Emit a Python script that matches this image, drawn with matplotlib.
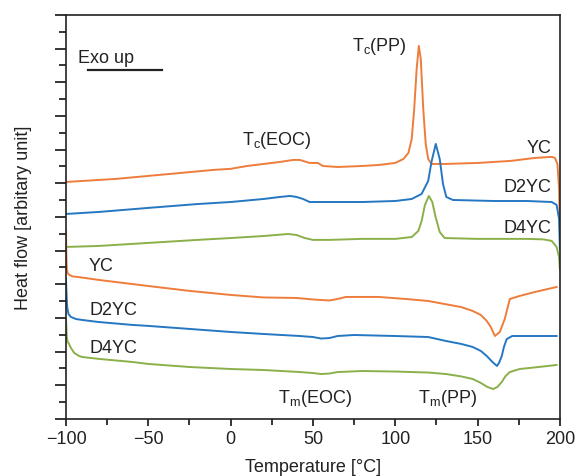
import matplotlib
matplotlib.use("Agg")
import matplotlib.pyplot as plt
from matplotlib.ticker import MultipleLocator

plt.rcParams['font.family'] = ['Liberation Sans', 'DejaVu Sans']
plt.rcParams['mathtext.fontset'] = 'custom'
plt.rcParams['mathtext.rm'] = 'Liberation Sans'
plt.rcParams['mathtext.it'] = 'Liberation Sans'

ORANGE = '#EE7D3B'
BLUE = '#2477C2'
GREEN = '#8AB04A'

# ---- cooling runs (upper curves) ----
yc_cool_T = [-100, -90, -70, -50, -30, -10, 0, 10, 20, 30, 38, 42, 48, 53, 56, 65, 80, 90, 100,
             105, 108, 110, 111.5, 113, 114.3, 115.5, 117, 118.5, 120, 122, 130, 150, 170, 185,
             195, 197, 198.5, 199.5, 200]
yc_cool_H = [14.08, 14.14, 14.26, 14.44, 14.62, 14.80, 14.86, 15.03, 15.15, 15.27, 15.39, 15.39,
             15.21, 15.21, 15.03, 14.97, 15.03, 15.09, 15.21, 15.45, 15.81, 16.64, 18.42, 20.80,
             22.16, 21.39, 18.42, 16.34, 15.45, 15.15, 15.15, 15.21, 15.33, 15.51, 15.57, 15.51,
             15.15, 13.67, 11.29]

d2_cool_T = [-100, -80, -50, -20, 0, 20, 30, 36, 40, 44, 48, 60, 80, 100, 110, 116, 120, 122,
             124.6, 127, 129, 131, 135, 160, 180, 195, 198, 199.5, 200]
d2_cool_H = [12.18, 12.30, 12.54, 12.77, 12.89, 13.07, 13.19, 13.25, 13.19, 13.07, 12.89, 12.89,
             12.89, 12.95, 13.07, 13.37, 14.14, 15.27, 16.34, 15.45, 13.96, 13.19, 13.01, 12.95,
             12.95, 12.89, 12.72, 11.88, 10.10]

d4_cool_T = [-100, -80, -50, -20, 0, 20, 35, 40, 45, 50, 60, 80, 100, 110, 114, 116, 118, 120.4,
             122.5, 124.5, 127, 130, 150, 180, 190, 195, 198, 199.5, 200]
d4_cool_H = [10.22, 10.28, 10.46, 10.64, 10.75, 10.87, 10.99, 10.93, 10.75, 10.64, 10.64, 10.70,
             10.70, 10.81, 11.17, 11.76, 12.71, 13.25, 12.89, 12.00, 11.11, 10.75, 10.70, 10.70,
             10.67, 10.58, 10.22, 9.63, 8.91]

# ---- heating runs (lower curves) ----
yc_heat_T = [-100, -99.8, -99.5, -99, -98, -96, -93, -80, -60, -50, -25, 0, 20, 40, 50, 55, 60,
             65, 70, 90, 110, 120, 130, 140, 147, 152, 155.6, 158, 160.5, 163.5, 166.5, 169.6,
             175.6, 185, 198]
yc_heat_H = [11.17, 9.80, 8.91, 8.67, 8.56, 8.47, 8.44, 8.26, 8.02, 7.90, 7.61, 7.37, 7.22, 7.19,
             7.10, 7.07, 7.04, 7.13, 7.25, 7.25, 7.10, 7.01, 6.83, 6.65, 6.42, 6.18, 5.82, 5.47,
             4.93, 5.17, 5.94, 7.13, 7.31, 7.55, 7.84]

d2_heat_T = [-100, -99.7, -99.3, -98.5, -97, -94, -90, -80, -60, -50, -25, 0, 20, 42, 50, 55, 60,
             65, 75, 100, 120, 131, 140, 147, 152, 155.6, 159, 161.8, 163, 164.7, 166, 167.7, 171,
             180, 198]
d2_heat_H = [8.32, 7.43, 6.65, 6.24, 6.06, 5.94, 5.88, 5.76, 5.59, 5.53, 5.35, 5.17, 5.05, 4.93,
             4.87, 4.78, 4.81, 4.93, 4.99, 4.93, 4.87, 4.63, 4.46, 4.28, 4.04, 3.74, 3.39, 3.15,
             3.33, 3.74, 4.28, 4.75, 4.93, 4.93, 4.93]

d4_heat_T = [-100, -99.5, -99, -98.5, -97, -95, -92, -90, -80, -60, -50, -25, 0, 20, 42, 50, 55,
             60, 65, 80, 100, 120, 131, 140, 147, 152, 156, 159.5, 162, 164.7, 167, 169.6, 175.6,
             190, 198]
d4_heat_H = [5.94, 4.87, 4.58, 4.52, 4.22, 3.92, 3.74, 3.68, 3.57, 3.39, 3.27, 3.09, 2.97, 2.91,
             2.79, 2.73, 2.67, 2.70, 2.79, 2.85, 2.82, 2.76, 2.67, 2.53, 2.38, 2.14, 1.90, 1.78,
             1.90, 2.20, 2.55, 2.79, 2.97, 3.12, 3.21]

x_ticks = [-100, -50, 0, 50, 100, 150, 200]
x_tick_labels = ['\u2212100', '\u221250', '0', '50', '100', '150', '200']

fig = plt.figure(figsize=(5.79, 4.77), dpi=100)
ax = fig.add_axes([0.114, 0.1195, 0.853, 0.847])

lw = 1.4
ax.plot(yc_cool_T, yc_cool_H, color=ORANGE, lw=lw)
ax.plot(d2_cool_T, d2_cool_H, color=BLUE, lw=lw)
ax.plot(d4_cool_T, d4_cool_H, color=GREEN, lw=lw)
ax.plot(yc_heat_T, yc_heat_H, color=ORANGE, lw=lw)
ax.plot(d2_heat_T, d2_heat_H, color=BLUE, lw=lw)
ax.plot(d4_heat_T, d4_heat_H, color=GREEN, lw=lw)

fs = 13
ax.set_xlim(-100, 200)
ax.set_ylim(0, 24)
ax.set_xticks(x_ticks)
ax.set_xticklabels(x_tick_labels)
ax.xaxis.set_minor_locator(MultipleLocator(25))
ax.yaxis.set_major_locator(MultipleLocator(2))
ax.yaxis.set_minor_locator(MultipleLocator(1))
ax.tick_params(axis='y', which='major', direction='out', length=8, width=1.1, labelleft=False)
ax.tick_params(axis='y', which='minor', direction='out', length=5, width=1.1)
ax.tick_params(axis='x', which='major', direction='out', length=5, width=1.1, labelsize=fs,
               pad=3, labelcolor='#222222')
ax.tick_params(axis='x', which='minor', direction='out', length=4, width=1.1)
for s in ax.spines.values():
    s.set_linewidth(1.2)
    s.set_color('#222222')

tc = '#222222'
ax.set_xlabel('Temperature [\u00b0C]', fontsize=fs, labelpad=8, color=tc)
ax.set_ylabel('Heat flow [arbitary unit]', fontsize=fs, labelpad=16, color=tc)

ax.text(-93, 21.45, 'Exo up', fontsize=fs, color=tc, va='center', ha='left')
ax.plot([0.045, 0.195], [0.865, 0.865], transform=ax.transAxes, color='#222222', lw=1.6)

ax.text(7, 16.6, r'T$_\mathregular{c}$(EOC)', fontsize=fs, color=tc, va='center', ha='left')
ax.text(74, 22.2, r'T$_\mathregular{c}$(PP)', fontsize=fs, color=tc, va='center', ha='left')
ax.text(195, 16.15, 'YC', fontsize=fs, color=tc, va='center', ha='right')
ax.text(195, 13.8, 'D2YC', fontsize=fs, color=tc, va='center', ha='right')
ax.text(195, 11.35, 'D4YC', fontsize=fs, color=tc, va='center', ha='right')
ax.text(-86, 9.1, 'YC', fontsize=fs, color=tc, va='center', ha='left')
ax.text(-86, 6.5, 'D2YC', fontsize=fs, color=tc, va='center', ha='left')
ax.text(-86, 4.25, 'D4YC', fontsize=fs, color=tc, va='center', ha='left')
ax.text(29, 1.3, r'T$_\mathregular{m}$(EOC)', fontsize=fs, color=tc, va='center', ha='left')
ax.text(114, 1.3, r'T$_\mathregular{m}$(PP)', fontsize=fs, color=tc, va='center', ha='left')

fig.savefig('out.png', dpi=100)
